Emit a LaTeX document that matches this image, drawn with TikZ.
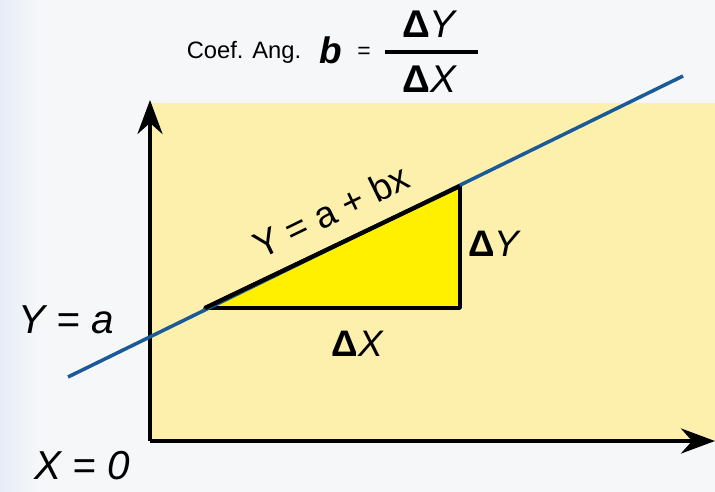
\documentclass[tikz,border=0pt]{standalone}
\usepackage{fontspec}
\setmainfont{Liberation Sans}
\usepackage{xcolor}
\usetikzlibrary{calc, positioning, arrows.meta}

\definecolor{bgGray}{HTML}{F6F7F9}
\definecolor{bgBlue}{HTML}{E6ECF7}
\definecolor{paleYellow}{HTML}{FCF0AC}
\definecolor{triYellow}{HTML}{FFF000}
\definecolor{lineBlue}{HTML}{1A5A98}

\begin{document}
\begin{tikzpicture}[>={Stealth[length=0.68cm,width=0.5cm]}, x=0.02cm, y=-0.02cm]

    % =================================================================
    % 1. KHUNG VÀ NỀN
    % =================================================================
    \useasboundingbox (0,0) rectangle (715,492);
    \fill[bgGray] (0,0) rectangle (715,492);
    \shade[left color=bgBlue, right color=bgGray] (0,0) rectangle (40,492);

    % Vùng nền vàng nhạt
    \fill[paleYellow] (150,103) rectangle (715,441);

    % =================================================================
    % 2. TỌA ĐỘ CÁC ĐIỂM CHÍNH
    % =================================================================
    \coordinate (O) at (150,441);
    \coordinate (YTop) at (150,100);
    \coordinate (XEnd) at (715,441);

    % Hai đầu đường thẳng Y = a + bx
    \coordinate (LineStart) at (68,377);
    \coordinate (LineEnd) at (683,76);

    % Tam giác
    \coordinate (P) at (205,308);
    \coordinate (Q) at (460,308);
    \coordinate (R) at (460,186);

    % =================================================================
    % 3. TRỤC TỌA ĐỘ
    % =================================================================
    \draw[line width=2.4pt, ->] (O) -- (YTop);
    \draw[line width=2.4pt, ->] (O) -- (XEnd);

    % =================================================================
    % 4. TAM GIÁC VÀ ĐƯỜNG THẲNG
    % =================================================================
    \draw[line width=2.2pt, line join=round, fill=triYellow] (P) -- (Q) -- (R) -- cycle;
    \draw[line width=2pt, lineBlue] (LineStart) -- (LineEnd);
    \draw[line width=2.4pt] (P) -- (R);

    % =================================================================
    % 5. NHÃN
    % =================================================================
    \node (ya) at (66,320) {\fontsize{23}{26}\selectfont\itshape Y = a};
    \node (x0) at (82,466) {\fontsize{23}{26}\selectfont\itshape X = 0};
    \node[rotate=26, inner sep=0pt] (eq) at (331,211) {\fontsize{21}{24}\selectfont Y = a + bx};
    \node (dy) at (495,244) {\fontsize{21}{24}\selectfont\textbf{Δ}\textit{Y}};
    \node (dx) at (358,344) {\fontsize{21}{24}\selectfont\textbf{Δ}\textit{X}};

    % Hệ số góc
    \node (coef) at (244,52) {\fontsize{13.5}{15}\selectfont Coef. Ang.};
    \node (b) at (331,50) {\fontsize{21}{24}\selectfont\bfseries\itshape b};
    \node (eqsign) at (364,53) {\fontsize{13}{15}\selectfont =};
    \node (num) at (430,24) {\fontsize{22}{25}\selectfont\textbf{Δ}\textit{Y}};
    \node (den) at (430,79) {\fontsize{22}{25}\selectfont\textbf{Δ}\textit{X}};
    \coordinate (BarL) at (385,52);
    \coordinate (BarR) at (478,52);
    \draw[line width=2.6pt] (BarL) -- (BarR);

\end{tikzpicture}
\end{document}
